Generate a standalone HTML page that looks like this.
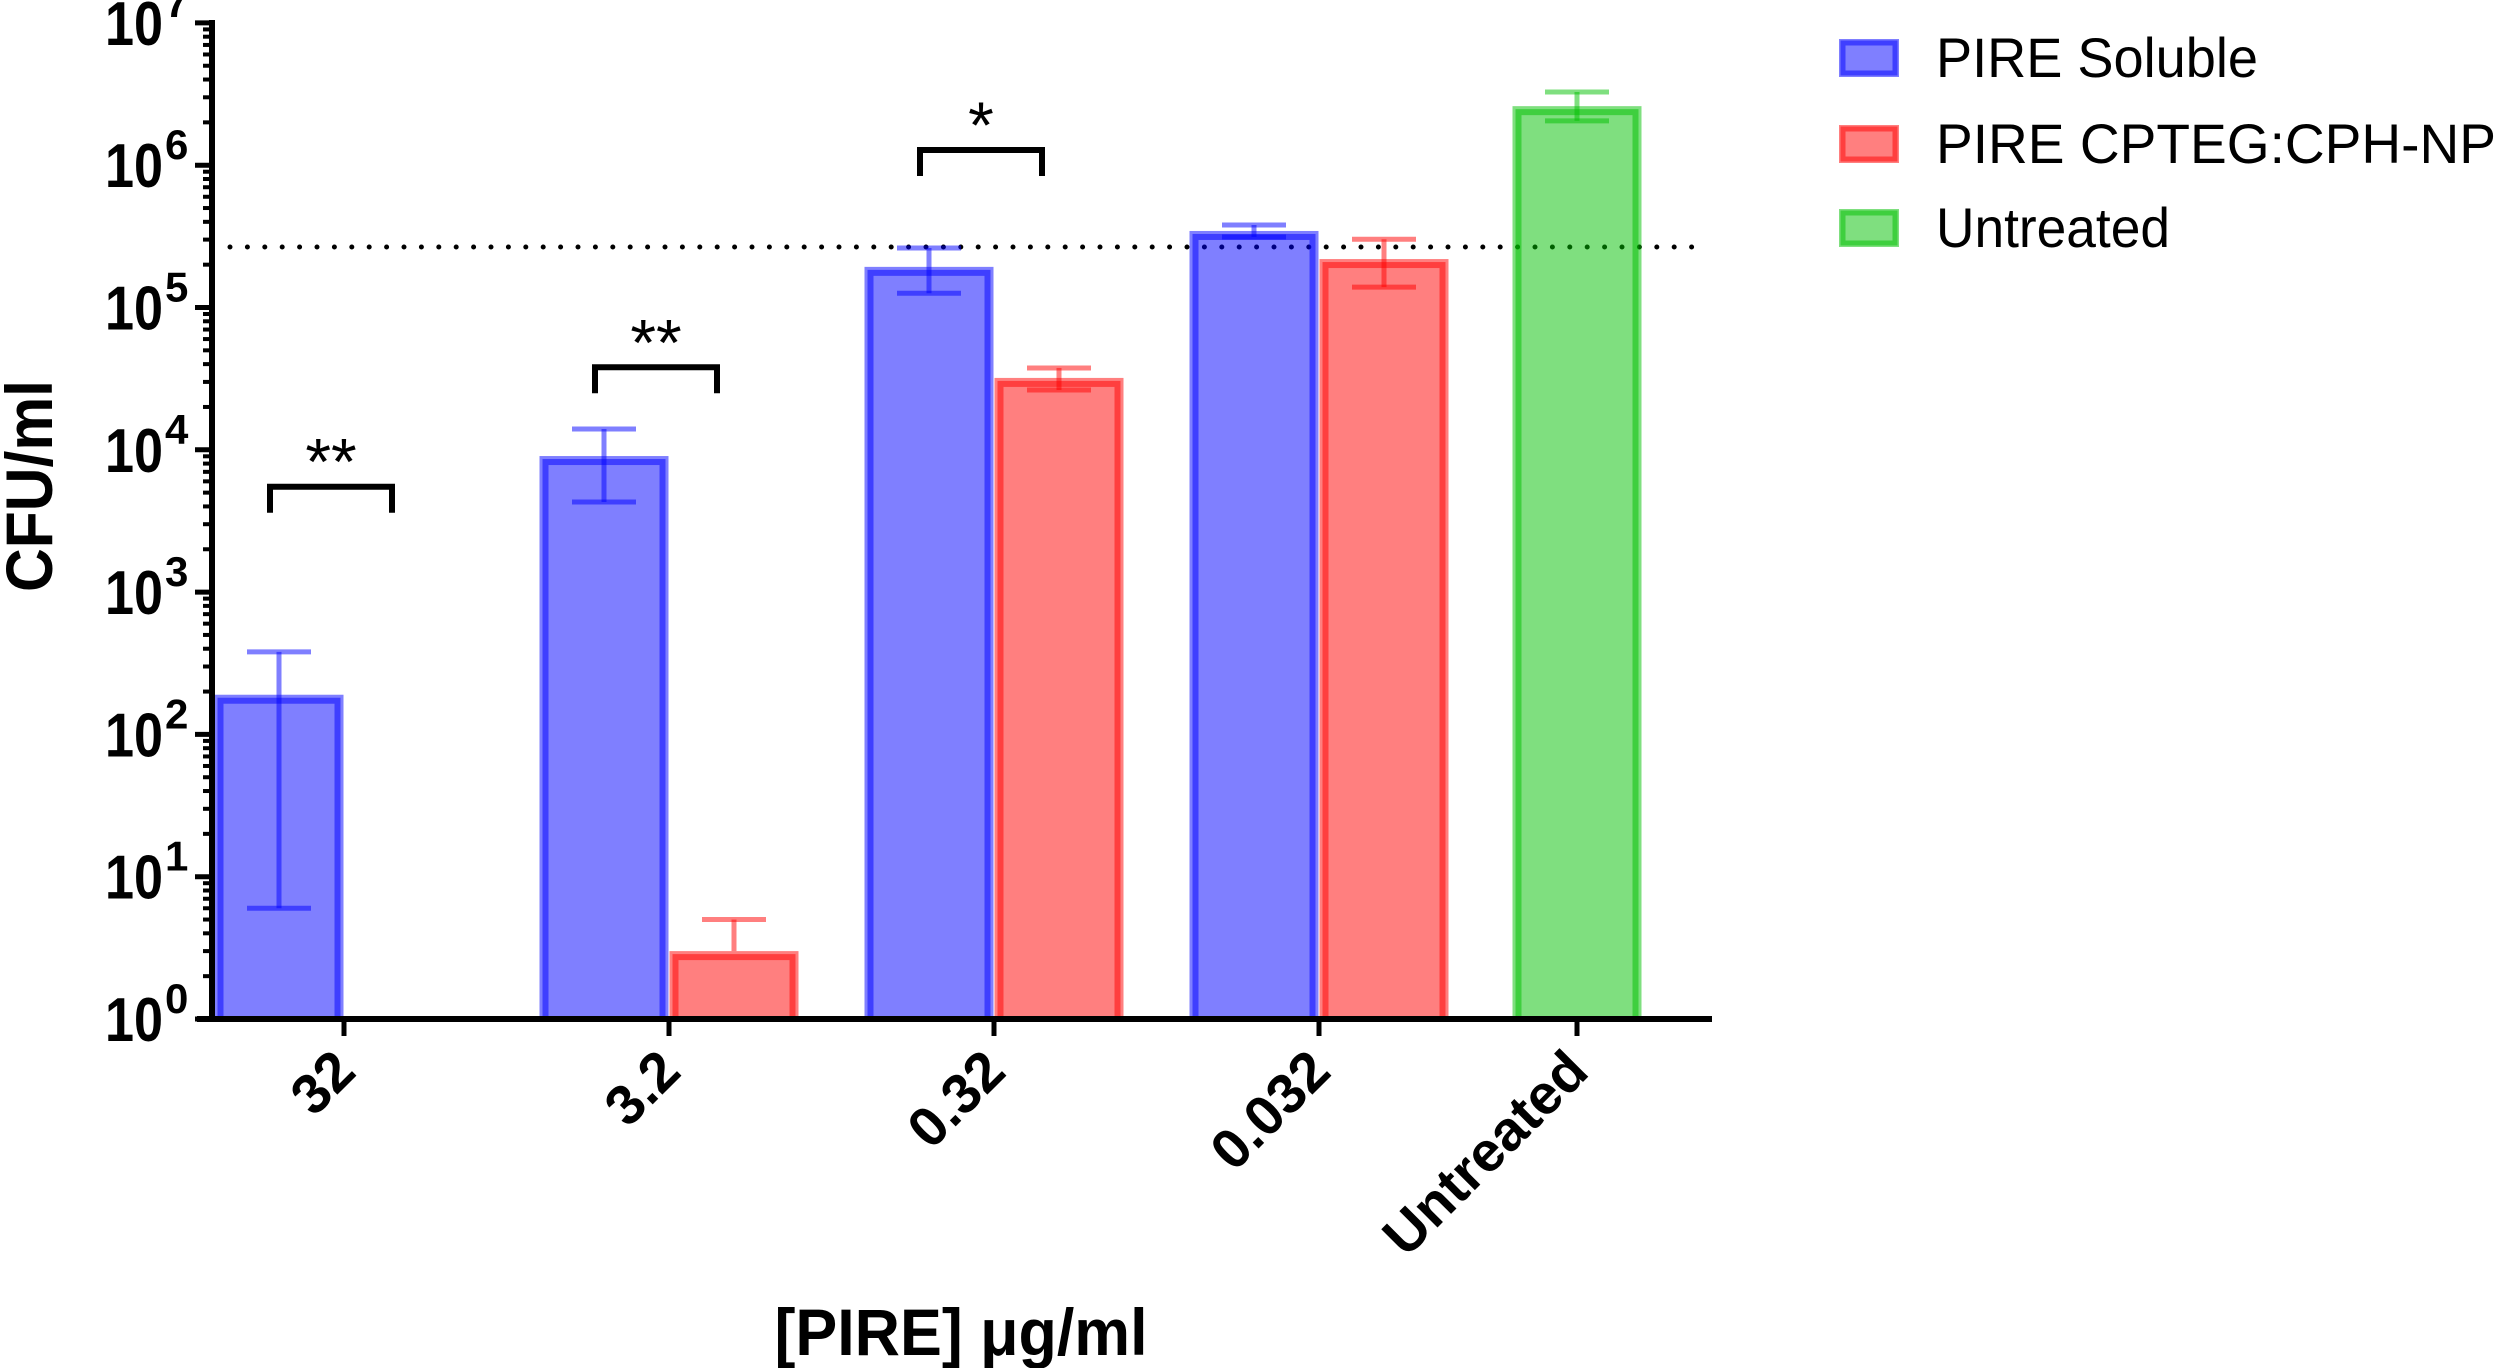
<!DOCTYPE html>
<html><head><meta charset="utf-8"><style>
html,body{margin:0;padding:0;background:#fff;}
svg{display:block;}
text{font-family:"Liberation Sans",sans-serif;}
</style></head><body>
<svg id="chart" width="2500" height="1368" viewBox="0 0 2500 1368" xmlns="http://www.w3.org/2000/svg">
<g id="plot"></g>
</svg>
<script>
const categories = ["32", "3.2", "0.32", "0.032", "Untreated"];
const solubleVals = [190, 9040, 193000, 345000, null];
const solubleLo = [6, 4300, 126000, 313000, null];
const solubleHi = [380, 14000, 262000, 380000, null];
const npVals = [null, 3, 32000, 219000, null];
const npLo = [null, null, 26300, 139000, null];
const npHi = [null, 5, 37600, 302000, null];
const untreatedVals = [null, null, null, null, 2600000];
const untreatedLo = [null, null, null, null, 2050000];
const untreatedHi = [null, null, null, null, 3270000];
const thresholdVal = 266000;
const yTickExps = [0, 1, 2, 3, 4, 5, 6, 7];
const sigLabels = ["**", "**", "*", null, null];
const sigLevels = [5500, 38000, 1280000, null, null];
const legendLabels = ["PIRE Soluble", "PIRE CPTEG:CPH-NP", "Untreated"];

const NS = "http://www.w3.org/2000/svg";
const g = document.getElementById("plot");
const X0 = 212, X1 = 1712, Y0 = 1019, DEC = 142.3;
const tickXs = [344, 669, 994, 1319, 1577];
function yScale(v){ return Y0 - DEC*Math.log10(v); }
function mk(tag, attrs, parent){
  const e = document.createElementNS(NS, tag);
  for (const k in attrs) e.setAttribute(k, attrs[k]);
  (parent||g).appendChild(e);
  return e;
}
const BW = 129;
const colors = [[0,0,255],[255,0,0],[0,192,0]];
function rgba(c,a){ return `rgba(${c[0]},${c[1]},${c[2]},${a})`; }

const dl = mk("line",{x1:230,x2:1706,y1:yScale(thresholdVal),y2:yScale(thresholdVal),stroke:"#000","stroke-width":5,"stroke-linecap":"round","stroke-dasharray":"0 17.4"});



function drawBar(cx, v, lo, hi, c, name){
  if (v == null) return;
  const top = yScale(v);
  const grp = mk("g",{});
  
  
  mk("rect",{x:cx-BW/2,y:top,width:BW,height:Y0-top,fill:rgba(c,0.5)},grp);
  mk("rect",{x:cx-BW/2+6,y:top+6,width:BW-12,height:Y0-top-6,fill:"none",stroke:rgba(c,0.5),"stroke-width":6},grp);
  const ehi = hi != null ? yScale(hi) : top;
  const elo = lo != null ? yScale(lo) : top;
  mk("line",{x1:cx,x2:cx,y1:ehi,y2:elo,stroke:rgba(c,0.5),"stroke-width":5},grp);
  if (hi != null) mk("line",{x1:cx-32,x2:cx+32,y1:ehi,y2:ehi,stroke:rgba(c,0.5),"stroke-width":5},grp);
  if (lo != null) mk("line",{x1:cx-32,x2:cx+32,y1:elo,y2:elo,stroke:rgba(c,0.5),"stroke-width":5},grp);
}
for (let i=0;i<categories.length;i++){
  const tx = tickXs[i];
  drawBar(tx-65, solubleVals[i], solubleLo[i], solubleHi[i], colors[0], "bar-soluble-"+categories[i]);
  drawBar(tx+65, npVals[i], npLo[i], npHi[i], colors[1], "bar-np-"+categories[i]);
  drawBar(tx, untreatedVals[i], untreatedLo[i], untreatedHi[i], colors[2], "bar-untreated");
}

for (let i=0;i<categories.length;i++){
  if (!sigLabels[i]) continue;
  const tx = tickXs[i];
  const y = yScale(sigLevels[i]);
  const br = mk("path",{d:`M${tx-74},${y+26} V${y} H${tx+48} V${y+26}`,fill:"none",stroke:"#000","stroke-width":6});
  
  
  const st = mk("text",{x:tx-13,y:y-2,"text-anchor":"middle","font-size":66,fill:"#000"});
  st.textContent = sigLabels[i];
  
  
}

const ya = mk("line",{x1:X0,x2:X0,y1:20,y2:Y0+3,stroke:"#000","stroke-width":6});


const xa = mk("line",{x1:X0-15,x2:X1,y1:Y0,y2:Y0,stroke:"#000","stroke-width":6});


for (const e of yTickExps){
  const y = Y0 - DEC*e;
  mk("line",{x1:X0-17,x2:X0,y1:y,y2:y,stroke:"#000","stroke-width":5});
  if (e < 7){
    for (let m=2;m<=9;m++){
      const ym = Y0 - DEC*(e+Math.log10(m));
      mk("line",{x1:X0-9,x2:X0,y1:ym,y2:ym,stroke:"#000","stroke-width":4});
    }
  }
  const t = mk("text",{x:105,y:y+22,"font-size":62,"font-weight":"bold",fill:"#000",textLength:58,lengthAdjust:"spacingAndGlyphs"});
  t.textContent = "10";
  
  
  const s = mk("text",{x:165,y:y-6,"font-size":42,"font-weight":"bold",fill:"#000"});
  s.textContent = String(e);
}
for (let i=0;i<categories.length;i++){
  const tx = tickXs[i];
  mk("line",{x1:tx,x2:tx,y1:Y0,y2:Y0+17,stroke:"#000","stroke-width":5});
  const t = mk("text",{x:tx+14,y:1074,"text-anchor":"end","font-size":56,"font-weight":"bold",fill:"#000",transform:`rotate(-45 ${tx+14} 1074)`});
  t.textContent = categories[i];
  
  
}
const yt = mk("text",{x:0,y:0,"text-anchor":"middle","font-size":66,"font-weight":"bold",fill:"#000",transform:"translate(52 486) rotate(-90)",textLength:212,lengthAdjust:"spacingAndGlyphs"});
yt.textContent = "CFU/ml";


const xt = mk("text",{x:961,y:1355,"text-anchor":"middle","font-size":66,"font-weight":"bold",fill:"#000",textLength:373,lengthAdjust:"spacingAndGlyphs"});
xt.textContent = "[PIRE] μg/ml";



const legWidths = [322, 560, 234];
const legY = [39, 125, 209];
for (let i=0;i<3;i++){
  const lg = mk("g",{});
  
  
  mk("rect",{x:1839,y:legY[i],width:60,height:38,fill:rgba(colors[i],0.5)},lg);
  mk("rect",{x:1843,y:legY[i]+4,width:52,height:30,fill:"none",stroke:rgba(colors[i],0.5),"stroke-width":5},lg);
  const t = mk("text",{x:1936,y:legY[i]+38,"font-size":56,fill:"#000",textLength:legWidths[i],lengthAdjust:"spacingAndGlyphs"},lg);
  t.textContent = legendLabels[i];
}
</script>
</body></html>
